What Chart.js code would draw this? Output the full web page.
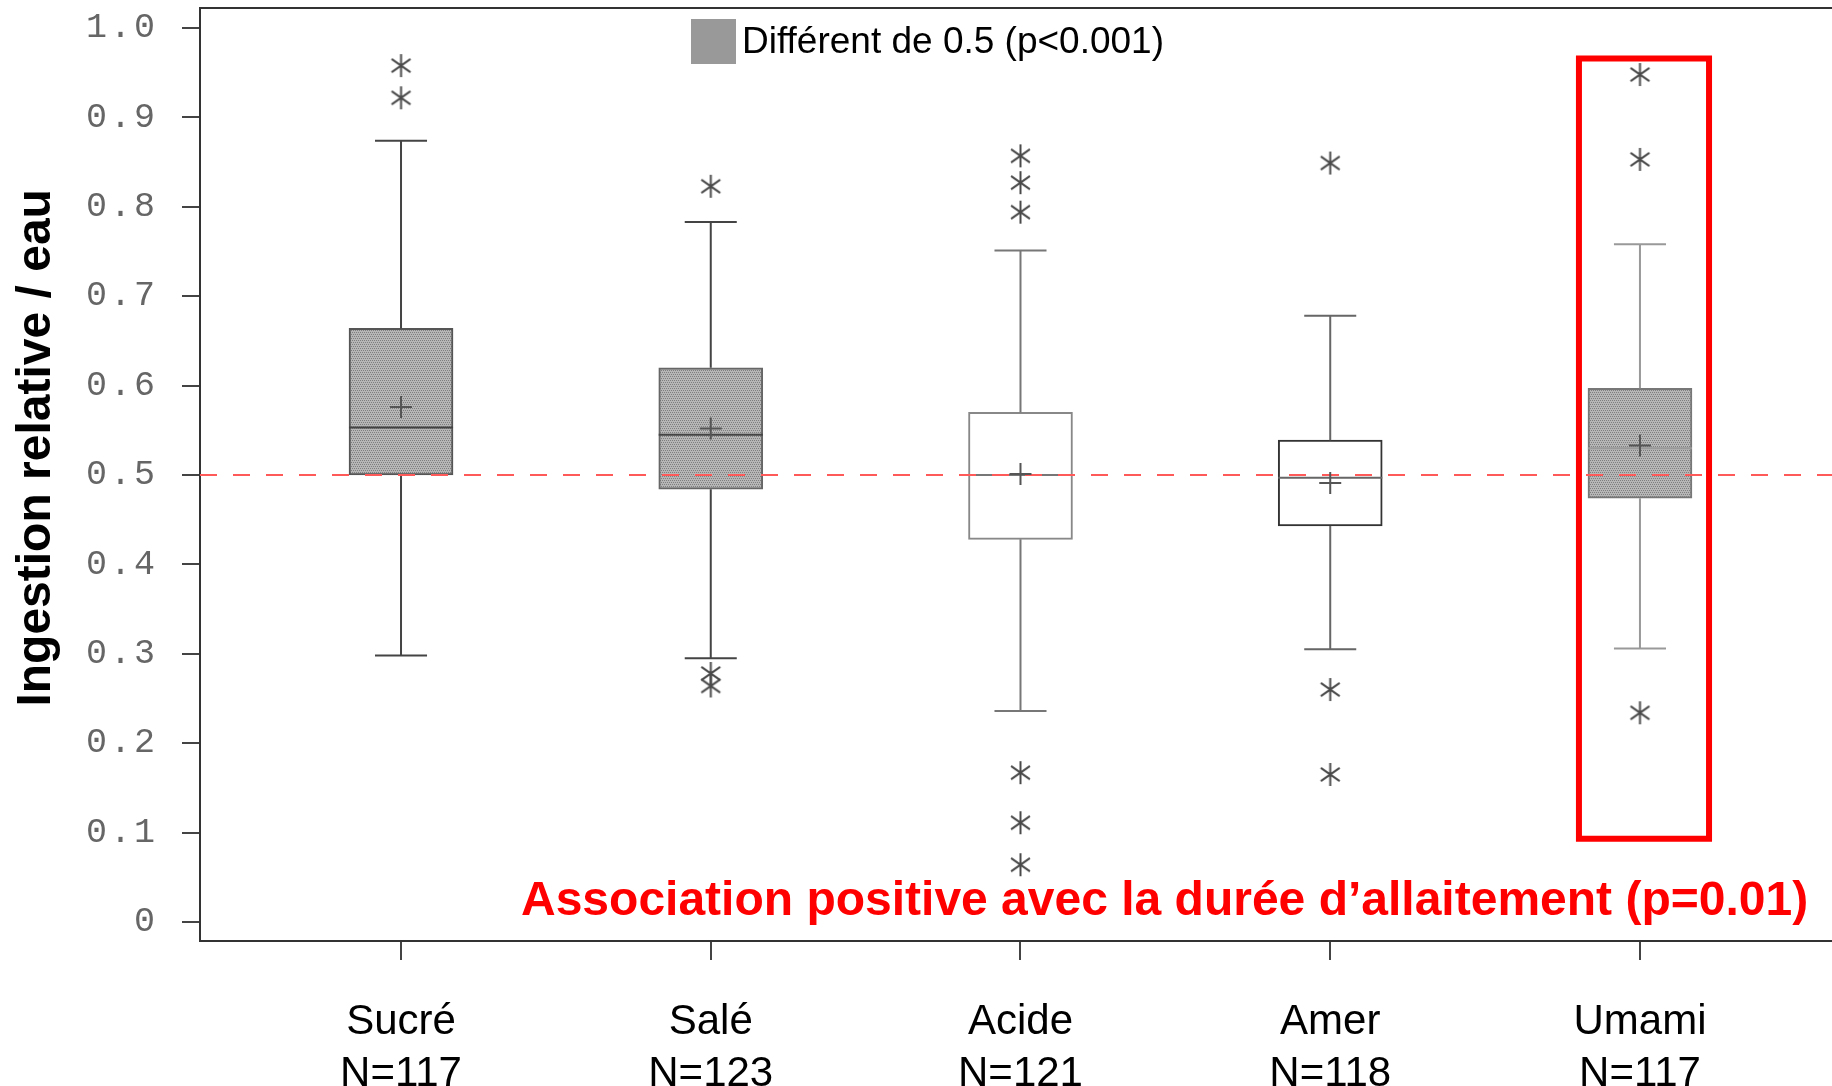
<!DOCTYPE html>
<html>
<head>
<meta charset="utf-8">
<title>Ingestion relative / eau</title>
<script src="https://cdn.jsdelivr.net/npm/chart.js@4.4.1/dist/chart.umd.min.js"></script>
<style>
  html, body { margin: 0; padding: 0; background: #fff; }
  #wrap { width: 1832px; height: 1086px; }
</style>
</head>
<body>
<div id="wrap"><canvas id="boxChart" width="1832" height="1086"></canvas></div>
<script>
// values
const categories = ["Sucré", "Salé", "Acide", "Amer", "Umami"];
const counts = [117, 123, 121, 118, 117];
const whiskerLow = [0.298, 0.295, 0.236, 0.305, 0.306];
const q1 = [0.500, 0.484, 0.428, 0.443, 0.474];
const median = [0.553, 0.545, 0.500, 0.497, 0.530];
const mean = [0.576, 0.552, 0.501, 0.491, 0.533];
const q3 = [0.664, 0.620, 0.570, 0.539, 0.597];
const whiskerHigh = [0.874, 0.783, 0.751, 0.678, 0.758];
const outliers = [
  [0.958, 0.922],
  [0.823, 0.278, 0.264],
  [0.857, 0.827, 0.794, 0.167, 0.111, 0.064],
  [0.849, 0.260, 0.165],
  [0.948, 0.853, 0.234]
];
const differs = [true, true, false, false, true];
const refValue = 0.5;
const yTicks = [0, 0.1, 0.2, 0.3, 0.4, 0.5, 0.6, 0.7, 0.8, 0.9, 1.0];
const yTickLabels = ["0", "0.1", "0.2", "0.3", "0.4", "0.5", "0.6", "0.7", "0.8", "0.9", "1.0"];

const yTitle = "Ingestion relative / eau";
const legendText = "Différent de 0.5 (p<0.001)";
const noteText = "Association positive avec la durée d’allaitement (p=0.01)";

// highlighted group (Umami) frame, in axis units
const frame = { x0: 3.803, x1: 4.223, y0: 0.093, y1: 0.966 };

// layout / style
const X_MIN = -0.649, X_MAX = 4.62;
const Y_MIN = -0.0213, Y_MAX = 1.0224;
const CAP = 0.084;   // half width of whisker caps
const BOX = 0.168;   // half width of the boxes
const FONT = "'Liberation Sans', Arial, sans-serif";
const lineColor = ["#444", "#444", "#777", "#666", "#999"];
const edgeColor = ["#555", "#666", "#888", "#333", "#777"];

function stipple() {
  const c = document.createElement("canvas");
  c.width = 4; c.height = 4;
  const g = c.getContext("2d");
  g.fillStyle = "#b6b6b6";
  g.fillRect(0, 0, 4, 4);
  g.fillStyle = "#7e7e7e";
  g.fillRect(0, 0, 1, 1); g.fillRect(2, 0, 1, 1);
  g.fillRect(1, 2, 1, 1); g.fillRect(3, 2, 1, 1);
  return g.createPattern(c, "repeat");
}

function asterisk(r, color, lw) {
  const c = document.createElement("canvas");
  const s = Math.ceil(2 * r + lw + 2);
  c.width = s; c.height = s;
  const g = c.getContext("2d");
  const m = s / 2;
  g.strokeStyle = color;
  g.lineWidth = lw;
  g.beginPath();
  [90, 35, 145].forEach(function (a) {
    const t = a * Math.PI / 180;
    g.moveTo(m - r * Math.cos(t), m - r * Math.sin(t));
    g.lineTo(m + r * Math.cos(t), m + r * Math.sin(t));
  });
  g.stroke();
  return c;
}

function groupLines(i) {
  const gap = { x: i, y: null };
  return [
    { x: i - CAP, y: whiskerHigh[i] }, { x: i + CAP, y: whiskerHigh[i] }, gap,
    { x: i, y: whiskerHigh[i] }, { x: i, y: q3[i] }, gap,
    { x: i, y: q1[i] }, { x: i, y: whiskerLow[i] }, gap,
    { x: i - CAP, y: whiskerLow[i] }, { x: i + CAP, y: whiskerLow[i] }, gap,
    { x: i - BOX, y: median[i] }, { x: i + BOX, y: median[i] }
  ];
}

const fill = stipple();
const star = asterisk(11.5, "#4a4a4a", 2);

const datasets = [];

datasets.push({
  type: "scatter",
  label: "outliers",
  data: outliers.flatMap(function (vals, i) {
    return vals.map(function (v) { return { x: i, y: v }; });
  }),
  pointStyle: star,
  pointRadius: 12,
  order: 0
});

datasets.push({
  type: "scatter",
  label: "mean",
  data: mean.map(function (v, i) { return { x: i, y: v }; }),
  pointStyle: "cross",
  pointRadius: 11,
  borderColor: "#555",
  borderWidth: 2,
  order: 1
});

datasets.push({
  type: "line",
  label: "0.5",
  data: [{ x: X_MIN, y: refValue }, { x: X_MAX, y: refValue }],
  borderColor: "#ff5a5a",
  borderWidth: 2,
  borderDash: [17, 16],
  pointRadius: 0,
  order: 2
});

categories.forEach(function (c, i) {
  datasets.push({
    type: "line",
    label: c,
    data: groupLines(i),
    borderColor: lineColor[i],
    borderWidth: 2,
    pointRadius: 0,
    spanGaps: false,
    order: 3
  });
});

datasets.push({
  type: "line",
  label: "frame",
  data: [
    { x: frame.x0, y: frame.y1 }, { x: frame.x1, y: frame.y1 },
    { x: frame.x1, y: frame.y0 }, { x: frame.x0, y: frame.y0 },
    { x: frame.x0, y: frame.y1 }, { x: frame.x1, y: frame.y1 }
  ],
  borderColor: "#ff0000",
  borderWidth: 6,
  borderJoinStyle: "miter",
  pointRadius: 0,
  order: 4
});

datasets.push({
  type: "bar",
  label: "boxes",
  data: categories.map(function (c, i) { return { x: i, y: [q1[i], q3[i]] }; }),
  backgroundColor: differs.map(function (d) { return d ? fill : "#ffffff"; }),
  borderColor: edgeColor,
  borderWidth: 2,
  borderSkipped: false,
  barThickness: 104,
  order: 5
});

// y tick labels are drawn with wide letter spacing, like the original
const spacedTicks = {
  id: "spacedTicks",
  beforeDraw(chart) {
    const s = chart.scales.y;
    if (s._spaced) return;
    const orig = s.drawLabels.bind(s);
    s.drawLabels = function (area) {
      chart.ctx.letterSpacing = "3px";
      orig(area);
      chart.ctx.letterSpacing = "0px";
    };
    s._spaced = true;
  }
};

const decorations = {
  id: "decorations",
  afterDraw(chart) {
    const ctx = chart.ctx;
    const a = chart.chartArea;
    ctx.save();
    ctx.strokeStyle = "#333";
    ctx.lineWidth = 2;
    ctx.beginPath();
    ctx.moveTo(a.left, a.top);
    ctx.lineTo(a.right, a.top);
    ctx.stroke();

    ctx.fillStyle = "#999";
    ctx.fillRect(691, 19, 45, 45);
    ctx.fillStyle = "#000";
    ctx.font = "37px " + FONT;
    ctx.textBaseline = "alphabetic";
    ctx.fillText(legendText, 742, 53);

    ctx.fillStyle = "#ff0000";
    ctx.font = "bold 48px " + FONT;
    ctx.fillText(noteText, 521, 915);
    ctx.restore();
  }
};

new Chart(document.getElementById("boxChart"), {
  type: "bar",
  data: { datasets: datasets },
  plugins: [spacedTicks, decorations],
  options: {
    responsive: false,
    animation: false,
    devicePixelRatio: 1,
    events: [],
    layout: { autoPadding: false, padding: { top: 8, left: 0, right: 0, bottom: 0 } },
    plugins: {
      legend: { display: false },
      tooltip: { enabled: false }
    },
    scales: {
      x: {
        type: "linear",
        min: X_MIN,
        max: X_MAX,
        offset: false,
        afterBuildTicks: function (s) {
          s.ticks = categories.map(function (c, i) { return { value: i }; });
        },
        afterFit: function (s) {
          s.height = 145;
          s.paddingLeft = 0;
          s.paddingRight = 0;
        },
        grid: { offset: false, drawOnChartArea: false, tickLength: 19, color: "#444", lineWidth: 2 },
        border: { color: "#333", width: 2 },
        ticks: {
          autoSkip: false,
          maxRotation: 0,
          padding: 36,
          color: "#000",
          font: { family: FONT, size: 42, lineHeight: 1.24 },
          callback: function (v) { return [categories[v], "N=" + counts[v]]; }
        }
      },
      y: {
        type: "linear",
        min: Y_MIN,
        max: Y_MAX,
        afterBuildTicks: function (s) {
          s.ticks = yTicks.map(function (v) { return { value: v }; });
        },
        afterFit: function (s) {
          s.width = 200;
          s.paddingTop = 0;
          s.paddingBottom = 0;
        },
        grid: { drawOnChartArea: false, tickLength: 18, color: "#444", lineWidth: 2 },
        border: { color: "#333", width: 2 },
        ticks: {
          padding: 24,
          color: "#666",
          font: { family: "'Liberation Mono', 'Courier New', monospace", size: 35 },
          callback: function (v, i) { return yTickLabels[i]; }
        },
        title: {
          display: true,
          text: "    " + yTitle,
          color: "#000",
          padding: { top: 8, bottom: 0 },
          font: { family: FONT, size: 48, weight: "bold" }
        }
      }
    }
  }
});
</script>
</body>
</html>
